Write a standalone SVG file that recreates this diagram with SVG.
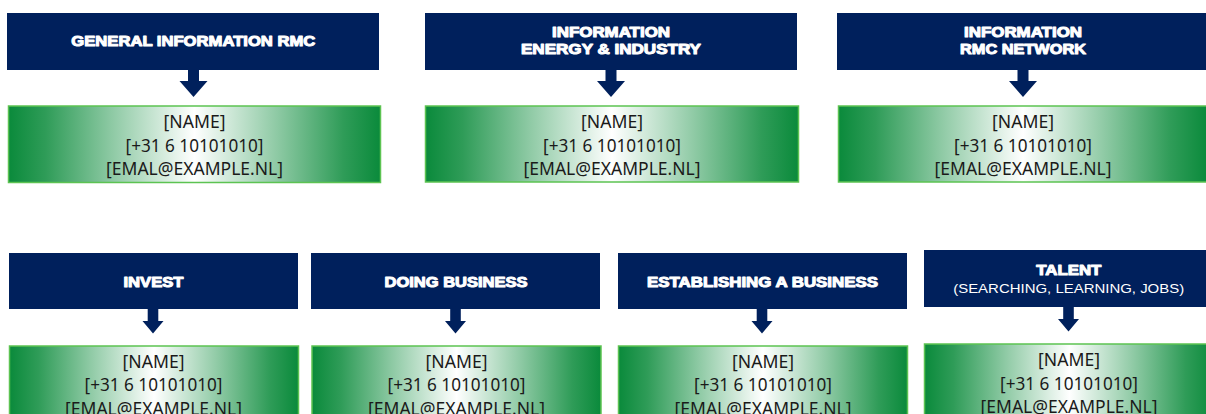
<svg xmlns="http://www.w3.org/2000/svg" xmlns:xlink="http://www.w3.org/1999/xlink" width="1206" height="414" viewBox="0 0 1206 414">
<defs>
<linearGradient id="gr" x1="0" y1="0" x2="1" y2="0">
<stop offset="0" stop-color="#0a8a3b"/>
<stop offset="0.1" stop-color="#2f9c58"/>
<stop offset="0.28" stop-color="#8fcaa5"/>
<stop offset="0.5" stop-color="#ffffff"/>
<stop offset="0.72" stop-color="#8fcaa5"/>
<stop offset="0.9" stop-color="#2f9c58"/>
<stop offset="1" stop-color="#0a8a3b"/>
</linearGradient>
<path id="arrT" d="M-5.5,70 h11 v11 h8.5 L0,97 L-14,81 h8.5 z"/>
<path id="arrB" d="M-5.3,309 h10.6 v12 h5.2 L0,333.5 L-10.5,321 h5.2 z"/>
</defs>
<style>
.hd{fill:#00205c}
.gb{fill:url(#gr);stroke:#5cc352;stroke-width:1.5}
.ht{font-family:"Liberation Sans",Arial,sans-serif;font-weight:bold;font-size:14px;fill:#fff;stroke:#fff;stroke-width:1;stroke-linejoin:round;text-anchor:middle}
.hs{font-family:"Liberation Sans",Arial,sans-serif;font-size:13.5px;fill:#fff;text-anchor:middle}
.ct{font-family:"Noto Sans","Liberation Sans",sans-serif;font-size:18px;fill:#1a1a1a;text-anchor:middle}
.ar{fill:#00205c}
</style>
<rect width="1206" height="414" fill="#fff"/>

<g id="connectors">
<use xlink:href="#arrT" x="193.5" class="ar"/>
<use xlink:href="#arrT" x="611" class="ar"/>
<use xlink:href="#arrT" x="1023" class="ar"/>
<use xlink:href="#arrB" x="153" class="ar"/>
<use xlink:href="#arrB" x="455.5" class="ar"/>
<use xlink:href="#arrB" x="762" class="ar"/>
<use xlink:href="#arrB" x="1068.5" y="-2" class="ar"/>
</g>

<g id="h-general">
<rect class="hd" x="7" y="13" width="372" height="57"/>
<text class="ht" x="193.3" y="46" textLength="244" lengthAdjust="spacingAndGlyphs">GENERAL INFORMATION RMC</text>
</g>
<g id="c-general">
<rect class="gb" x="8.5" y="106" width="372" height="76.5"/>
<text class="ct" x="194.5" y="128" textLength="62" lengthAdjust="spacingAndGlyphs">[NAME]</text>
<text class="ct" x="194.5" y="151.5" textLength="138" lengthAdjust="spacingAndGlyphs">[+31 6 10101010]</text>
<text class="ct" x="194.5" y="175" textLength="177" lengthAdjust="spacingAndGlyphs">[EMAL@EXAMPLE.NL]</text>
</g>

<g id="h-energy">
<rect class="hd" x="425" y="13" width="372" height="57"/>
<text class="ht" x="611" y="36.7" textLength="118" lengthAdjust="spacingAndGlyphs">INFORMATION</text>
<text class="ht" x="611" y="54" textLength="180" lengthAdjust="spacingAndGlyphs">ENERGY &amp; INDUSTRY</text>
</g>
<g id="c-energy">
<rect class="gb" x="425.5" y="106" width="373" height="76"/>
<text class="ct" x="612" y="128" textLength="62" lengthAdjust="spacingAndGlyphs">[NAME]</text>
<text class="ct" x="612" y="151.5" textLength="138" lengthAdjust="spacingAndGlyphs">[+31 6 10101010]</text>
<text class="ct" x="612" y="175" textLength="177" lengthAdjust="spacingAndGlyphs">[EMAL@EXAMPLE.NL]</text>
</g>

<g id="h-network">
<rect class="hd" x="837" y="13" width="375" height="57"/>
<text class="ht" x="1023" y="36.7" textLength="118" lengthAdjust="spacingAndGlyphs">INFORMATION</text>
<text class="ht" x="1023" y="54" textLength="126" lengthAdjust="spacingAndGlyphs">RMC NETWORK</text>
</g>
<g id="c-network">
<rect class="gb" x="838.5" y="106" width="369" height="76"/>
<text class="ct" x="1023" y="128" textLength="62" lengthAdjust="spacingAndGlyphs">[NAME]</text>
<text class="ct" x="1023" y="151.5" textLength="138" lengthAdjust="spacingAndGlyphs">[+31 6 10101010]</text>
<text class="ct" x="1023" y="175" textLength="177" lengthAdjust="spacingAndGlyphs">[EMAL@EXAMPLE.NL]</text>
</g>

<g id="h-invest">
<rect class="hd" x="9" y="253" width="289" height="56"/>
<text class="ht" x="153.5" y="286.5" textLength="60" lengthAdjust="spacingAndGlyphs">INVEST</text>
</g>
<g id="c-invest">
<rect class="gb" x="9.5" y="346" width="289" height="80"/>
<text class="ct" x="153.5" y="367.5" textLength="62" lengthAdjust="spacingAndGlyphs">[NAME]</text>
<text class="ct" x="153.5" y="391" textLength="138" lengthAdjust="spacingAndGlyphs">[+31 6 10101010]</text>
<text class="ct" x="153.5" y="414.5" textLength="177" lengthAdjust="spacingAndGlyphs">[EMAL@EXAMPLE.NL]</text>
</g>

<g id="h-doing">
<rect class="hd" x="311" y="253" width="289" height="56"/>
<text class="ht" x="456" y="286.5" textLength="143" lengthAdjust="spacingAndGlyphs">DOING BUSINESS</text>
</g>
<g id="c-doing">
<rect class="gb" x="312" y="346" width="289" height="80"/>
<text class="ct" x="456.5" y="367.5" textLength="62" lengthAdjust="spacingAndGlyphs">[NAME]</text>
<text class="ct" x="456.5" y="391" textLength="138" lengthAdjust="spacingAndGlyphs">[+31 6 10101010]</text>
<text class="ct" x="456.5" y="414.5" textLength="177" lengthAdjust="spacingAndGlyphs">[EMAL@EXAMPLE.NL]</text>
</g>

<g id="h-establishing">
<rect class="hd" x="618" y="253" width="289" height="56"/>
<text class="ht" x="762.5" y="286.5" textLength="231" lengthAdjust="spacingAndGlyphs">ESTABLISHING A BUSINESS</text>
</g>
<g id="c-establishing">
<rect class="gb" x="618.5" y="346" width="289" height="80"/>
<text class="ct" x="763" y="367.5" textLength="62" lengthAdjust="spacingAndGlyphs">[NAME]</text>
<text class="ct" x="763" y="391" textLength="138" lengthAdjust="spacingAndGlyphs">[+31 6 10101010]</text>
<text class="ct" x="763" y="414.5" textLength="177" lengthAdjust="spacingAndGlyphs">[EMAL@EXAMPLE.NL]</text>
</g>

<g id="h-talent">
<rect class="hd" x="924" y="250" width="290" height="57"/>
<text class="ht" x="1068.8" y="275" textLength="65" lengthAdjust="spacingAndGlyphs">TALENT</text>
<text class="hs" x="1068.7" y="293" textLength="231" lengthAdjust="spacingAndGlyphs">(SEARCHING, LEARNING, JOBS)</text>
</g>
<g id="c-talent">
<rect class="gb" x="924.5" y="344" width="290" height="80"/>
<text class="ct" x="1069" y="366" textLength="62" lengthAdjust="spacingAndGlyphs">[NAME]</text>
<text class="ct" x="1069" y="389.5" textLength="138" lengthAdjust="spacingAndGlyphs">[+31 6 10101010]</text>
<text class="ct" x="1069" y="413" textLength="177" lengthAdjust="spacingAndGlyphs">[EMAL@EXAMPLE.NL]</text>
</g>
</svg>
